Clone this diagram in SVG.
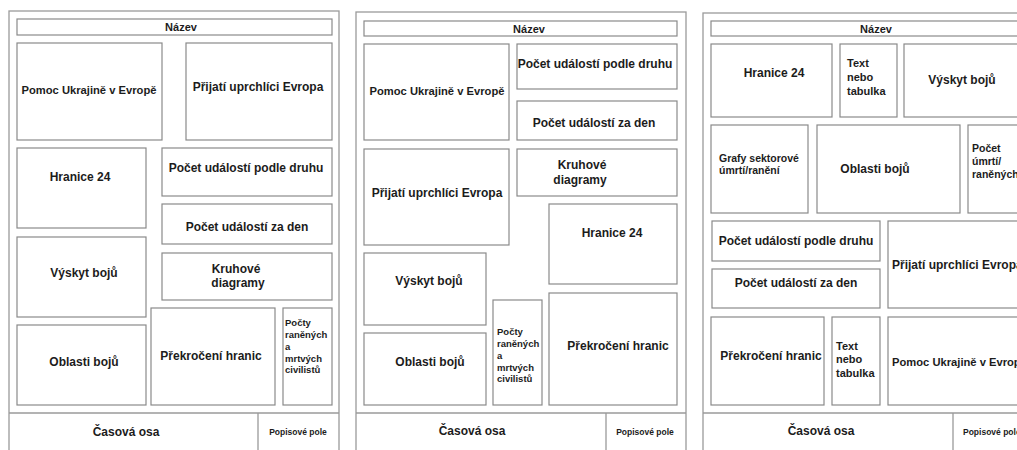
<svg xmlns="http://www.w3.org/2000/svg" width="1017" height="450" viewBox="0 0 1017 450">
<style>
.frame{fill:#fff;stroke:#9a9a9a;stroke-width:1.3}
.box{fill:#fff;stroke:#8a8a8a;stroke-width:1.2}
.ln{stroke:#9a9a9a;stroke-width:1.3;fill:none}
text{font-family:"Liberation Sans",Arial,sans-serif;font-weight:bold;fill:#1c1c1c;font-size:12px;dominant-baseline:central}
.c{text-anchor:middle}
.s{font-size:11.2px}
.t{font-size:11px}
.p{font-size:8.5px}
.n{font-size:9.5px}
.g{font-size:10.5px}
</style>
<rect width="1017" height="450" fill="#fff"/>
<!-- Panel 1 -->
<g id="panel1">
<rect class="frame" x="9" y="11" width="330" height="450"/>
<g id="p1-nazev"><rect class="box" x="17" y="19" width="315" height="16"/><text class="c t" x="181" y="27">Název</text></g>
<g id="p1-pomoc"><rect class="box" x="17" y="43" width="145" height="97"/><text class="c s" x="89" y="90">Pomoc Ukrajině v Evropě</text></g>
<g id="p1-prijati"><rect class="box" x="186" y="43" width="146" height="97"/><text class="c" x="258" y="87">Přijatí uprchlíci Evropa</text></g>
<g id="p1-hranice"><rect class="box" x="17" y="148" width="129" height="80"/><text class="c" x="80" y="177">Hranice 24</text></g>
<g id="p1-druhu"><rect class="box" x="162" y="148" width="170" height="48"/><text class="c" x="246" y="168">Počet událostí podle druhu</text></g>
<g id="p1-den"><rect class="box" x="162" y="204" width="170" height="40"/><text class="c" x="247" y="227">Počet událostí za den</text></g>
<g id="p1-vyskyt"><rect class="box" x="17" y="237" width="129" height="80"/><text class="c" x="84" y="273">Výskyt bojů</text></g>
<g id="p1-kruhove"><rect class="box" x="162" y="253" width="170" height="47"/><text class="c" x="236" y="269">Kruhové</text><text class="c" x="238" y="283">diagramy</text></g>
<g id="p1-oblasti"><rect class="box" x="17" y="325" width="129" height="80"/><text class="c" x="84" y="362">Oblasti bojů</text></g>
<g id="p1-prekroceni"><rect class="box" x="151" y="308" width="124" height="97"/><text class="c" x="211" y="356">Překročení hranic</text></g>
<g id="p1-pocty"><rect class="box" x="283" y="308" width="49" height="97"/><text class="n" x="285" y="322">Počty</text><text class="n" x="285" y="334">raněných</text><text class="n" x="285" y="346">a</text><text class="n" x="285" y="358">mrtvých</text><text class="n" x="285" y="369">civilistů</text></g>
<g id="p1-osa"><line class="ln" x1="9" y1="413" x2="339" y2="413"/><line class="ln" x1="258" y1="413" x2="258" y2="450"/><text class="c" x="126" y="432">Časová osa</text><text class="c p" x="298" y="432">Popisové pole</text></g>
</g>
<!-- Panel 2 -->
<g id="panel2">
<rect class="frame" x="356" y="12" width="330" height="450"/>
<g id="p2-nazev"><rect class="box" x="364" y="21" width="313" height="15"/><text class="c t" x="529" y="29">Název</text></g>
<g id="p2-pomoc"><rect class="box" x="364" y="44" width="145" height="96"/><text class="c s" x="437" y="91">Pomoc Ukrajině v Evropě</text></g>
<g id="p2-druhu"><rect class="box" x="517" y="44" width="160" height="45"/><text class="c" x="595" y="64">Počet událostí podle druhu</text></g>
<g id="p2-den"><rect class="box" x="517" y="101" width="160" height="39"/><text class="c" x="594" y="123">Počet událostí za den</text></g>
<g id="p2-prijati"><rect class="box" x="364" y="149" width="145" height="96"/><text class="c" x="437" y="193">Přijatí uprchlíci Evropa</text></g>
<g id="p2-kruhove"><rect class="box" x="517" y="149" width="160" height="47"/><text class="c" x="582" y="165">Kruhové</text><text class="c" x="580" y="180">diagramy</text></g>
<g id="p2-hranice"><rect class="box" x="549" y="204" width="128" height="80"/><text class="c" x="612" y="233">Hranice 24</text></g>
<g id="p2-vyskyt"><rect class="box" x="364" y="253" width="122" height="72"/><text class="c" x="429" y="281">Výskyt bojů</text></g>
<g id="p2-oblasti"><rect class="box" x="364" y="333" width="122" height="72"/><text class="c" x="430" y="362">Oblasti bojů</text></g>
<g id="p2-pocty"><rect class="box" x="493" y="300" width="49" height="105"/><text class="n" x="497" y="331">Počty</text><text class="n" x="497" y="343">raněných</text><text class="n" x="497" y="355">a</text><text class="n" x="497" y="367">mrtvých</text><text class="n" x="497" y="378">civilistů</text></g>
<g id="p2-prekroceni"><rect class="box" x="549" y="293" width="128" height="112"/><text class="c" x="618" y="346">Překročení hranic</text></g>
<g id="p2-osa"><line class="ln" x1="356" y1="413" x2="686" y2="413"/><line class="ln" x1="606" y1="413" x2="606" y2="450"/><text class="c" x="472" y="431">Časová osa</text><text class="c p" x="645" y="432">Popisové pole</text></g>
</g>
<!-- Panel 3 -->
<g id="panel3">
<rect class="frame" x="703" y="13" width="400" height="450"/>
<g id="p3-nazev"><rect class="box" x="711" y="21" width="400" height="15"/><text class="c t" x="876" y="29">Název</text></g>
<g id="p3-hranice"><rect class="box" x="711" y="44" width="121" height="73"/><text class="c" x="774" y="73">Hranice 24</text></g>
<g id="p3-text1"><rect class="box" x="840" y="44" width="57" height="73"/><text class="t" x="847" y="63">Text</text><text class="t" x="847" y="77">nebo</text><text class="t" x="847" y="91">tabulka</text></g>
<g id="p3-vyskyt"><rect class="box" x="904" y="44" width="200" height="73"/><text class="c" x="962" y="80">Výskyt bojů</text></g>
<g id="p3-grafy"><rect class="box" x="711" y="125" width="97" height="88"/><text class="g" x="719" y="158">Grafy sektorové</text><text class="g" x="719" y="170">úmrtí/ranění</text></g>
<g id="p3-oblasti"><rect class="box" x="817" y="125" width="143" height="88"/><text class="c" x="875" y="169">Oblasti bojů</text></g>
<g id="p3-pocet"><rect class="box" x="968" y="125" width="100" height="88"/><text class="g" x="972" y="148">Počet</text><text class="g" x="972" y="161">úmrtí/</text><text class="g" x="972" y="174">raněných</text></g>
<g id="p3-druhu"><rect class="box" x="712" y="221" width="168" height="40"/><text class="c" x="796" y="241">Počet událostí podle druhu</text></g>
<g id="p3-den"><rect class="box" x="712" y="269" width="168" height="39"/><text class="c" x="796" y="283">Počet událostí za den</text></g>
<g id="p3-prijati"><rect class="box" x="888" y="221" width="200" height="87"/><text x="892" y="265">Přijatí uprchlíci Evropa</text></g>
<g id="p3-prekroceni"><rect class="box" x="711" y="317" width="113" height="88"/><text class="c" x="771" y="356">Překročení hranic</text></g>
<g id="p3-text2"><rect class="box" x="832" y="317" width="48" height="88"/><text class="t" x="836" y="346">Text</text><text class="t" x="836" y="359">nebo</text><text class="t" x="836" y="373">tabulka</text></g>
<g id="p3-pomoc"><rect class="box" x="888" y="317" width="200" height="88"/><text class="s" x="892" y="362">Pomoc Ukrajině v Evropě</text></g>
<g id="p3-osa"><line class="ln" x1="703" y1="413" x2="1017" y2="413"/><line class="ln" x1="953" y1="413" x2="953" y2="450"/><text class="c" x="821" y="431">Časová osa</text><text class="p" x="963" y="432">Popisové pole</text></g>
</g>
<g id="connectors"></g>
</svg>
